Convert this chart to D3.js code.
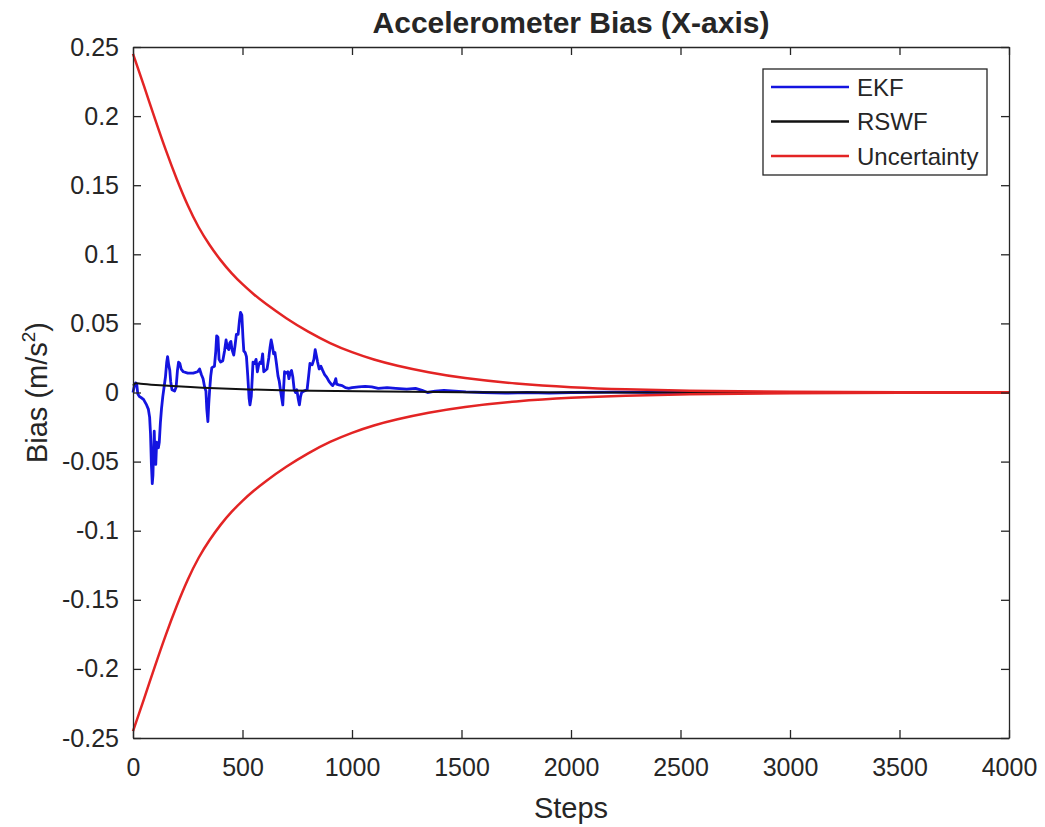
<!DOCTYPE html>
<html>
<head>
<meta charset="utf-8">
<script src="https://cdn.jsdelivr.net/npm/d3@7"></script>
<style>
  body { margin: 0; background: #fff; }
  text { font-family: "Liberation Sans", Arial, sans-serif; fill: #262626; }
</style>
</head>
<body>
<script>
// values
let ekfSteps = [0, 5, 12, 17, 22, 30, 40, 48, 55, 62, 70, 76, 80, 84, 88, 91, 94, 97, 100, 104,
  108, 112, 116, 120, 125, 130, 136, 142, 148, 154, 158, 163, 168, 172, 178, 190, 197, 203, 208, 214,
  220, 230, 250, 275, 295, 304, 312, 320, 327, 333, 337, 342, 346, 350, 355, 360, 372, 378, 382, 388,
  393, 400, 410, 418, 425, 430, 437, 442, 447, 452, 460, 466, 472, 480, 486, 491, 497, 502, 506, 512,
  518, 524, 530, 534, 540, 545, 548, 555, 562, 568, 574, 580, 586, 592, 597, 604, 612, 620, 626, 631,
  636, 642, 648, 655, 662, 668, 674, 680, 684, 688, 692, 700, 707, 712, 717, 724, 730, 736, 742, 748,
  755, 760, 765, 770, 780, 795, 802, 808, 818, 826, 832, 837, 843, 850, 858, 866, 875, 885, 895, 905,
  912, 920, 926, 930, 940, 955, 970, 985, 1000, 1030, 1060, 1090, 1120, 1160, 1200, 1250, 1290, 1320, 1345, 1380,
  1420, 1470, 1520, 1600, 1700, 1800, 1900, 2000, 2200, 2500, 3000, 3500, 4000]
let ekfValues = [0, 0.004, 0.007, 0.006, -0.001, -0.003, -0.004, -0.005, -0.007, -0.009, -0.012, -0.018, -0.03, -0.052, -0.066, -0.06, -0.042, -0.028, -0.045, -0.052,
  -0.036, -0.038, -0.04, -0.036, -0.022, -0.012, -0.003, 0.004, 0.011, 0.022, 0.026, 0.02, 0.016, 0.008, 0.002, 0.001, 0.004, 0.016, 0.022, 0.021,
  0.017, 0.015, 0.014, 0.014, 0.015, 0.017, 0.013, 0.01, 0.004, 0.001, -0.012, -0.021, -0.008, 0.002, 0.012, 0.018, 0.019, 0.03, 0.041, 0.04,
  0.024, 0.022, 0.023, 0.03, 0.038, 0.033, 0.031, 0.036, 0.037, 0.031, 0.027, 0.034, 0.042, 0.042, 0.052, 0.058, 0.056, 0.04, 0.03, 0.029,
  0.026, 0.012, -0.004, -0.009, -0.003, 0.012, 0.022, 0.021, 0.024, 0.015, 0.02, 0.022, 0.021, 0.028, 0.015, 0.016, 0.017, 0.025, 0.033, 0.038,
  0.034, 0.028, 0.029, 0.021, 0.012, 0.008, 0.001, -0.005, -0.009, 0.004, 0.015, 0.014, 0.015, 0.01, 0.014, 0.016, 0.011, 0.002, 0, 0.002,
  -0.005, -0.009, -0.003, 0, 0.001, 0.002, 0.012, 0.021, 0.02, 0.024, 0.031, 0.027, 0.022, 0.017, 0.019, 0.016, 0.013, 0.011, 0.008, 0.006,
  0.005, 0.007, 0.01, 0.006, 0.0055, 0.005, 0.0035, 0.003, 0.0035, 0.004, 0.0045, 0.004, 0.003, 0.0035, 0.003, 0.0025, 0.003, 0.0015, 0, 0.001,
  0.0015, 0.001, 0.0005, 0, -0.0005, 0, -0.0005, 0, 0.0003, 0, 0, 0, 0]

let rswfSteps = [0, 10, 25, 100, 200, 300, 500, 700, 1000, 1500, 2000, 4000]
let rswfValues = [0.005, 0.007, 0.0065, 0.0055, 0.0045, 0.0035, 0.0022, 0.0015, 0.0008, 0.0002, 0, 0]

// upper bound (+) and lower bound (-) share the same magnitude
let uncSteps = [0, 50, 100, 150, 200, 250, 300, 350, 400, 450, 500, 550, 600, 700, 800, 900, 1000, 1100, 1200,
  1350, 1500, 1750, 2000, 2250, 2500, 3000, 3500, 4000]
let uncValues = [0.245, 0.222, 0.198, 0.175, 0.154, 0.135, 0.119, 0.1065, 0.0955, 0.0862, 0.0782, 0.0712, 0.0648,
  0.0535, 0.0438, 0.0355, 0.029, 0.0237, 0.0195, 0.0145, 0.0105, 0.0062, 0.0037, 0.0022, 0.0013, 0.0005, 0.0002, 0.0001]

let xTicks = [0, 500, 1000, 1500, 2000, 2500, 3000, 3500, 4000]
let yTicks = [-0.25, -0.2, -0.15, -0.1, -0.05, 0, 0.05, 0.1, 0.15, 0.2, 0.25]

let seriesNames = ['EKF', 'RSWF', 'Uncertainty']
let seriesColors = ['#1414e0', '#111111', '#e32424']

let width = 1045
let height = 827
let padL = 133, padR = 1009, padT = 47, padB = 738
let tickLen = 8

let svg = d3.select('body')
  .append('svg')
  .attr('width', width)
  .attr('height', height)

let x = d3.scaleLinear().domain([0, 4000]).range([padL, padR])
let y = d3.scaleLinear().domain([-0.25, 0.25]).range([padB, padT])

let line = d3.line()
  .x(d => x(d[0]))
  .y(d => y(d[1]))
let smooth = d3.line()
  .x(d => x(d[0]))
  .y(d => y(d[1]))
  .curve(d3.curveBasis)

let ekf = ekfSteps.map((s, i) => [s, ekfValues[i]])
let rswf = rswfSteps.map((s, i) => [s, rswfValues[i]])
let uncUp = uncSteps.map((s, i) => [s, uncValues[i]])
let uncDown = uncSteps.map((s, i) => [s, -uncValues[i]])

let plot = svg.append('g')

plot.append('path').datum(ekf)
  .attr('d', line)
  .attr('fill', 'none')
  .attr('stroke', seriesColors[0])
  .attr('stroke-width', 2.8)
  .attr('stroke-linejoin', 'round')

plot.append('path').datum(rswf)
  .attr('d', smooth)
  .attr('fill', 'none')
  .attr('stroke', seriesColors[1])
  .attr('stroke-width', 2)

plot.selectAll('.unc')
  .data([uncUp, uncDown])
  .enter()
  .append('path')
  .attr('class', 'unc')
  .attr('d', smooth)
  .attr('fill', 'none')
  .attr('stroke', seriesColors[2])
  .attr('stroke-width', 2.5)

// axes, MATLAB style: box with inward ticks on all sides
let axisColor = '#262626'

let xAxis = svg.append('g')
  .attr('transform', 'translate(0,' + padB + ')')
  .call(d3.axisBottom(x).tickValues(xTicks).tickSizeInner(-tickLen).tickSizeOuter(0).tickPadding(20)
    .tickFormat(d => String(d)))
let yAxis = svg.append('g')
  .attr('transform', 'translate(' + padL + ',0)')
  .call(d3.axisLeft(y).tickValues(yTicks).tickSizeInner(-tickLen).tickSizeOuter(0).tickPadding(14)
    .tickFormat(d => String(+d.toFixed(2))))
let xTop = svg.append('g')
  .attr('transform', 'translate(0,' + padT + ')')
  .call(d3.axisTop(x).tickValues(xTicks).tickSizeInner(-tickLen).tickSizeOuter(0).tickFormat(''))
let yRight = svg.append('g')
  .attr('transform', 'translate(' + padR + ',0)')
  .call(d3.axisRight(y).tickValues(yTicks).tickSizeInner(-tickLen).tickSizeOuter(0).tickFormat(''))

;[xAxis, yAxis, xTop, yRight].forEach(g => {
  g.select('.domain').attr('stroke', axisColor).attr('stroke-width', 1.3)
  g.selectAll('.tick line').attr('stroke', axisColor).attr('stroke-width', 1.3)
  g.selectAll('.tick text')
    .attr('font-size', 25)
    .attr('font-family', '"Liberation Sans", Arial, sans-serif')
    .attr('fill', axisColor)
})

// title and axis labels
svg.append('text')
  .attr('x', (padL + padR) / 2)
  .attr('y', 33)
  .attr('text-anchor', 'middle')
  .attr('font-size', 30)
  .attr('font-weight', 'bold')
  .attr('fill', '#000')
  .text('Accelerometer Bias (X-axis)')

svg.append('text')
  .attr('x', (padL + padR) / 2)
  .attr('y', 818)
  .attr('text-anchor', 'middle')
  .attr('font-size', 29)
  .text('Steps')

let yLabel = svg.append('text')
  .attr('transform', 'translate(47,' + ((padT + padB) / 2) + ') rotate(-90)')
  .attr('text-anchor', 'middle')
  .attr('font-size', 29)
yLabel.append('tspan').text('Bias (m/s')
yLabel.append('tspan').attr('font-size', 19).attr('dy', -12).text('2')
yLabel.append('tspan').attr('dy', 12).text(')')

// legend
let legend = svg.append('g').attr('transform', 'translate(763,69)')
legend.append('rect')
  .attr('width', 224)
  .attr('height', 106)
  .attr('fill', '#fff')
  .attr('stroke', axisColor)
  .attr('stroke-width', 1.3)

let items = legend.selectAll('.item')
  .data(seriesNames)
  .enter()
  .append('g')
  .attr('class', 'item')
  .attr('transform', (d, i) => 'translate(0,' + (18 + i * 34.5) + ')')

items.append('line')
  .attr('x1', 8).attr('x2', 86)
  .attr('stroke', (d, i) => seriesColors[i])
  .attr('stroke-width', 2.5)

items.append('text')
  .attr('x', 94)
  .attr('y', 8.5)
  .attr('font-size', 24)
  .text(d => d)
</script>
</body>
</html>
